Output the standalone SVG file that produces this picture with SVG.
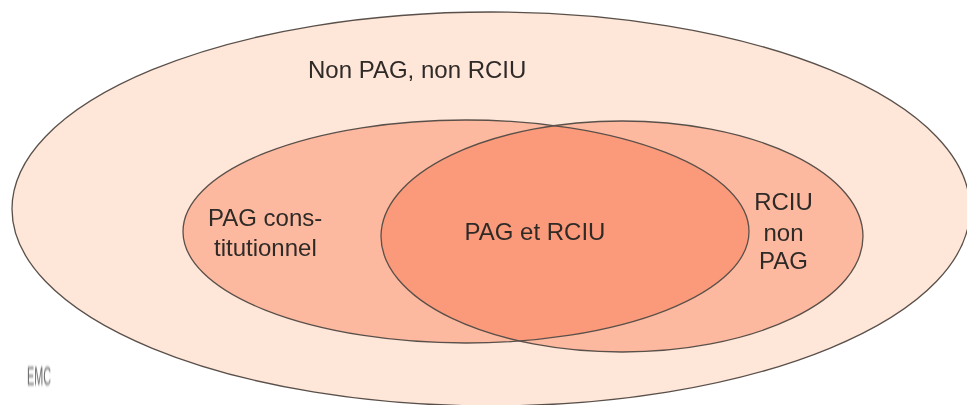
<svg xmlns="http://www.w3.org/2000/svg" width="967" height="405" viewBox="0 0 967 405">
<style>
.e{stroke:#5a504a;stroke-width:1.3}
.o{fill:none}
text{font-family:"Liberation Sans",Arial,sans-serif;font-size:24px;fill:#2e2a28}
</style>
<defs>
<clipPath id="c"><ellipse cx="466" cy="231.5" rx="283" ry="111.5"/></clipPath>
<filter id="b" x="-5%" y="-20%" width="110%" height="140%"><feGaussianBlur stdDeviation="0.45"/></filter>
<filter id="b2" x="-30%" y="-30%" width="160%" height="160%"><feGaussianBlur stdDeviation="0.9"/></filter>
</defs>
<rect width="967" height="405" fill="#fff"/>
<g id="outer"><ellipse class="e" cx="491" cy="209" rx="479" ry="197" fill="#fee6d9"/><text filter="url(#b)" x="308" y="78">Non PAG, non RCIU</text></g>
<g id="rciu"><ellipse class="e" cx="622" cy="236.5" rx="241" ry="115.5" fill="#fdb99f"/><text filter="url(#b)" x="783.5" y="210" text-anchor="middle">RCIU</text><text filter="url(#b)" x="783.5" y="241" text-anchor="middle">non</text><text filter="url(#b)" x="783.5" y="269" text-anchor="middle">PAG</text></g>
<g id="pag"><ellipse cx="466" cy="231.5" rx="283" ry="111.5" fill="#fdb99f"/><text filter="url(#b)" x="208" y="226">PAG cons-</text><text filter="url(#b)" x="214" y="256">titutionnel</text></g>
<g id="both"><ellipse cx="622" cy="236.5" rx="241" ry="115.5" fill="#fb9a7a" clip-path="url(#c)"/><ellipse class="e o" cx="622" cy="236.5" rx="241" ry="115.5" clip-path="url(#c)"/><text filter="url(#b)" x="535" y="240" text-anchor="middle">PAG et RCIU</text></g>
<g id="connectors"><ellipse class="e o" cx="466" cy="231.5" rx="283" ry="111.5"/></g>
<g id="logo"><text filter="url(#b2)" transform="translate(27 385) scale(.72 1.7)" style="font-size:15px;fill:#666">EMC</text></g>
</svg>
